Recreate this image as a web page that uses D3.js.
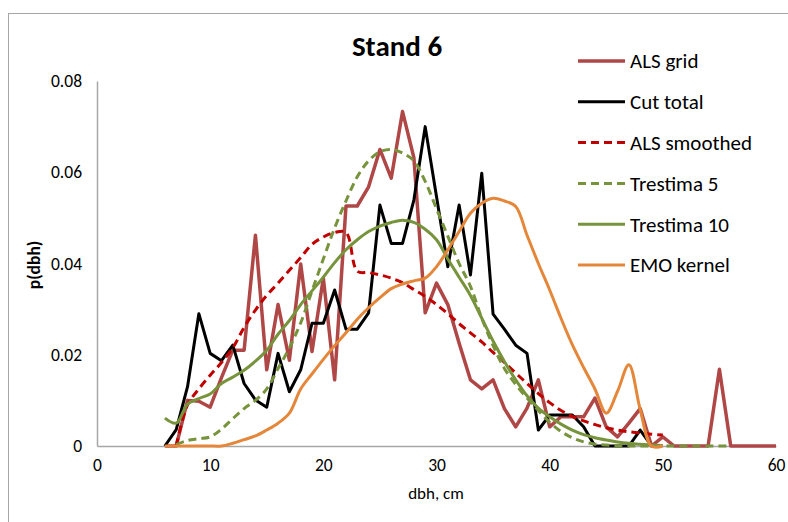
<!DOCTYPE html>
<html>
<head>
<meta charset="utf-8">
<script src="https://cdn.jsdelivr.net/npm/d3@7"></script>
<style>
  body { margin: 0; background: #fff; }
  svg { font-family: Carlito, Calibri, Lato, sans-serif; }
</style>
</head>
<body>
<svg id="chart" width="788" height="522"></svg>
<script>
// dbh classes, cm
var dbh = d3.range(6, 61);

// values, one per cm class starting at the given dbh
var alsGridStart = 6;
var alsGrid = [0, 0, 0.010, 0.0098, 0.0085, 0.015, 0.021, 0.021, 0.0462, 0.0167,
  0.031, 0.0188, 0.0399, 0.0207, 0.0368, 0.0145, 0.0526, 0.0526, 0.0568, 0.065,
  0.0587, 0.0733, 0.0632, 0.0292, 0.0357, 0.031, 0.0225, 0.0145, 0.0125, 0.0145,
  0.0082, 0.0042, 0.0083, 0.0145, 0.0042, 0.0064, 0.0064, 0.0064, 0.0105, 0.0042,
  0.002, 0.005, 0.0082, 0, 0.002, 0, 0, 0, 0, 0.0168, 0, 0, 0, 0, 0];

var cutTotalStart = 6;
var cutTotal = [0, 0.0036, 0.013, 0.029, 0.0203, 0.0187, 0.0221, 0.0137, 0.0101, 0.0085,
  0.0203, 0.0119, 0.0167, 0.0269, 0.0269, 0.0342, 0.0256, 0.0256, 0.0292, 0.0528,
  0.0444, 0.0444, 0.0539, 0.070, 0.0547, 0.0393, 0.0528, 0.0375, 0.0598, 0.0289,
  0.0256, 0.0221, 0.0203, 0.0035, 0.0068, 0.0068, 0.0068, 0.0042, 0, 0,
  0, 0, 0.0035, 0];

var alsSmoothStart = 7;
var alsSmooth = [0, 0.009, 0.0125, 0.0155, 0.0183, 0.0215, 0.026, 0.0298, 0.033, 0.0357,
  0.0385, 0.0413, 0.0442, 0.0458, 0.0468, 0.0468, 0.0383, 0.038, 0.0375, 0.0368,
  0.0358, 0.0343, 0.0328, 0.031, 0.029, 0.0268, 0.0248, 0.0228, 0.0205, 0.0183,
  0.016, 0.0137, 0.0115, 0.0095, 0.0078, 0.0065, 0.0055, 0.0047, 0.004, 0.0035,
  0.0031, 0.0029, 0.0026, 0.0024];

var trestima5Start = 7;
var trestima5 = [0.0003, 0.0012, 0.0016, 0.002, 0.0037, 0.006, 0.0082, 0.010, 0.0125, 0.017,
  0.0215, 0.027, 0.034, 0.041, 0.0478, 0.0537, 0.059, 0.0625, 0.0645, 0.065,
  0.0642, 0.0625, 0.058, 0.052, 0.046, 0.040, 0.035, 0.028, 0.022, 0.017,
  0.0135, 0.0105, 0.0078, 0.0052, 0.0032, 0.0018, 0.0009, 0.0004, 0.0002, 0,
  0, 0, 0, 0, 0, 0, 0, 0, 0, 0];

var trestima10Start = 6;
var trestima10 = [0.0061, 0.005, 0.0092, 0.0104, 0.0114, 0.0137, 0.0151, 0.0166, 0.0186, 0.021,
  0.0245, 0.0275, 0.031, 0.034, 0.037, 0.0402, 0.043, 0.0452, 0.047, 0.0482,
  0.049, 0.0495, 0.049, 0.0475, 0.0452, 0.041, 0.037, 0.033, 0.028, 0.023,
  0.0185, 0.0145, 0.011, 0.0083, 0.0064, 0.0048, 0.0035, 0.0025, 0.0018, 0.0013,
  0.0009, 0.0006, 0.0004, 0.0002, 0.0001];

var emoStart = 6;
var emoKernel = [0, 0, 0, 0, 0, 0, 0.0006, 0.0014, 0.0022, 0.0035,
  0.005, 0.0072, 0.0125, 0.0158, 0.019, 0.022, 0.0248, 0.0278, 0.0303, 0.0325,
  0.0345, 0.0355, 0.0362, 0.0368, 0.0393, 0.043, 0.047, 0.051, 0.0532, 0.0543,
  0.0537, 0.0525, 0.0462, 0.040, 0.0342, 0.028, 0.0222, 0.0172, 0.0125, 0.0072,
  0.012, 0.0178, 0.008, 0, 0];

var xTicks = [0, 10, 20, 30, 40, 50, 60];
var yTicks = [0, 0.02, 0.04, 0.06, 0.08];

var series = [
  {name: "ALS grid", start: alsGridStart, values: alsGrid, color: "#B04747", width: 3.5, dash: null, smooth: false},
  {name: "Cut total", start: cutTotalStart, values: cutTotal, color: "#000000", width: 3, dash: null, smooth: false},
  {name: "ALS smoothed", start: alsSmoothStart, values: alsSmooth, color: "#C00000", width: 3, dash: "8,5", smooth: true},
  {name: "Trestima 5", start: trestima5Start, values: trestima5, color: "#77933C", width: 3, dash: "8,5", smooth: true},
  {name: "Trestima 10", start: trestima10Start, values: trestima10, color: "#77933C", width: 3, dash: null, smooth: true},
  {name: "EMO kernel", start: emoStart, values: emoKernel, color: "#E5873A", width: 3, dash: null, smooth: true}
];

var svg = d3.select("#chart");

// outer frame of the chart area
svg.append("rect")
  .attr("x", 8.5).attr("y", 13.5)
  .attr("width", 820).attr("height", 540)
  .attr("fill", "none")
  .attr("stroke", "#A6A6A6");

var x = d3.scaleLinear().domain([0, 60]).range([97, 776]);
var y = d3.scaleLinear().domain([0, 0.08]).range([446, 81]);

svg.append("g")
  .attr("transform", "translate(0," + y(0) + ")")
  .call(d3.axisBottom(x).tickValues(xTicks).tickSize(0).tickPadding(13).tickFormat(d3.format("d")));

svg.append("g")
  .attr("transform", "translate(" + x(0) + ",0)")
  .call(d3.axisLeft(y).tickValues(yTicks).tickSize(0).tickPadding(15)
    .tickFormat(function (d) { return d === 0 ? "0" : d3.format(".2f")(d); }));

svg.selectAll(".domain").attr("stroke", "#A6A6A6").attr("stroke-width", 1.5);
svg.selectAll(".tick text")
  .attr("font-family", "Carlito, Calibri, Lato, sans-serif")
  .attr("font-size", 17.5)
  .attr("fill", "#000");

svg.append("text")
  .attr("x", 397).attr("y", 56)
  .attr("text-anchor", "middle")
  .attr("font-size", 29)
  .attr("font-weight", "bold")
  .text("Stand 6");

svg.append("text")
  .attr("x", 436).attr("y", 499)
  .attr("text-anchor", "middle")
  .attr("font-size", 17)
  .text("dbh, cm");

svg.append("text")
  .attr("transform", "translate(40,265) rotate(-90)")
  .attr("text-anchor", "middle")
  .attr("font-size", 17.5)
  .attr("font-weight", "bold")
  .text("p(dbh)");

var plot = svg.append("g");

series.forEach(function (s) {
  var pts = s.values.map(function (v, i) { return [s.start + i, v]; });
  var line = d3.line()
    .x(function (d) { return x(d[0]); })
    .y(function (d) { return y(d[1]); })
    .curve(s.smooth ? d3.curveCatmullRom.alpha(0.5) : d3.curveLinear);
  plot.append("path")
    .datum(pts)
    .attr("d", line)
    .attr("fill", "none")
    .attr("stroke", s.color)
    .attr("stroke-width", s.width)
    .attr("stroke-dasharray", s.dash)
    .attr("stroke-linejoin", "round");
});

// legend
var legend = svg.append("g").attr("transform", "translate(578,61)");
var rows = legend.selectAll("g")
  .data(series)
  .enter().append("g")
  .attr("transform", function (d, i) { return "translate(0," + (i * 40.8) + ")"; });

rows.append("line")
  .attr("x1", 0).attr("x2", 47)
  .attr("stroke", function (d) { return d.color; })
  .attr("stroke-width", function (d) { return d.width; })
  .attr("stroke-dasharray", function (d) { return d.dash; });

rows.append("text")
  .attr("x", 52).attr("dy", "0.35em")
  .attr("font-size", 21)
  .text(function (d) { return d.name; });
</script>
</body>
</html>
